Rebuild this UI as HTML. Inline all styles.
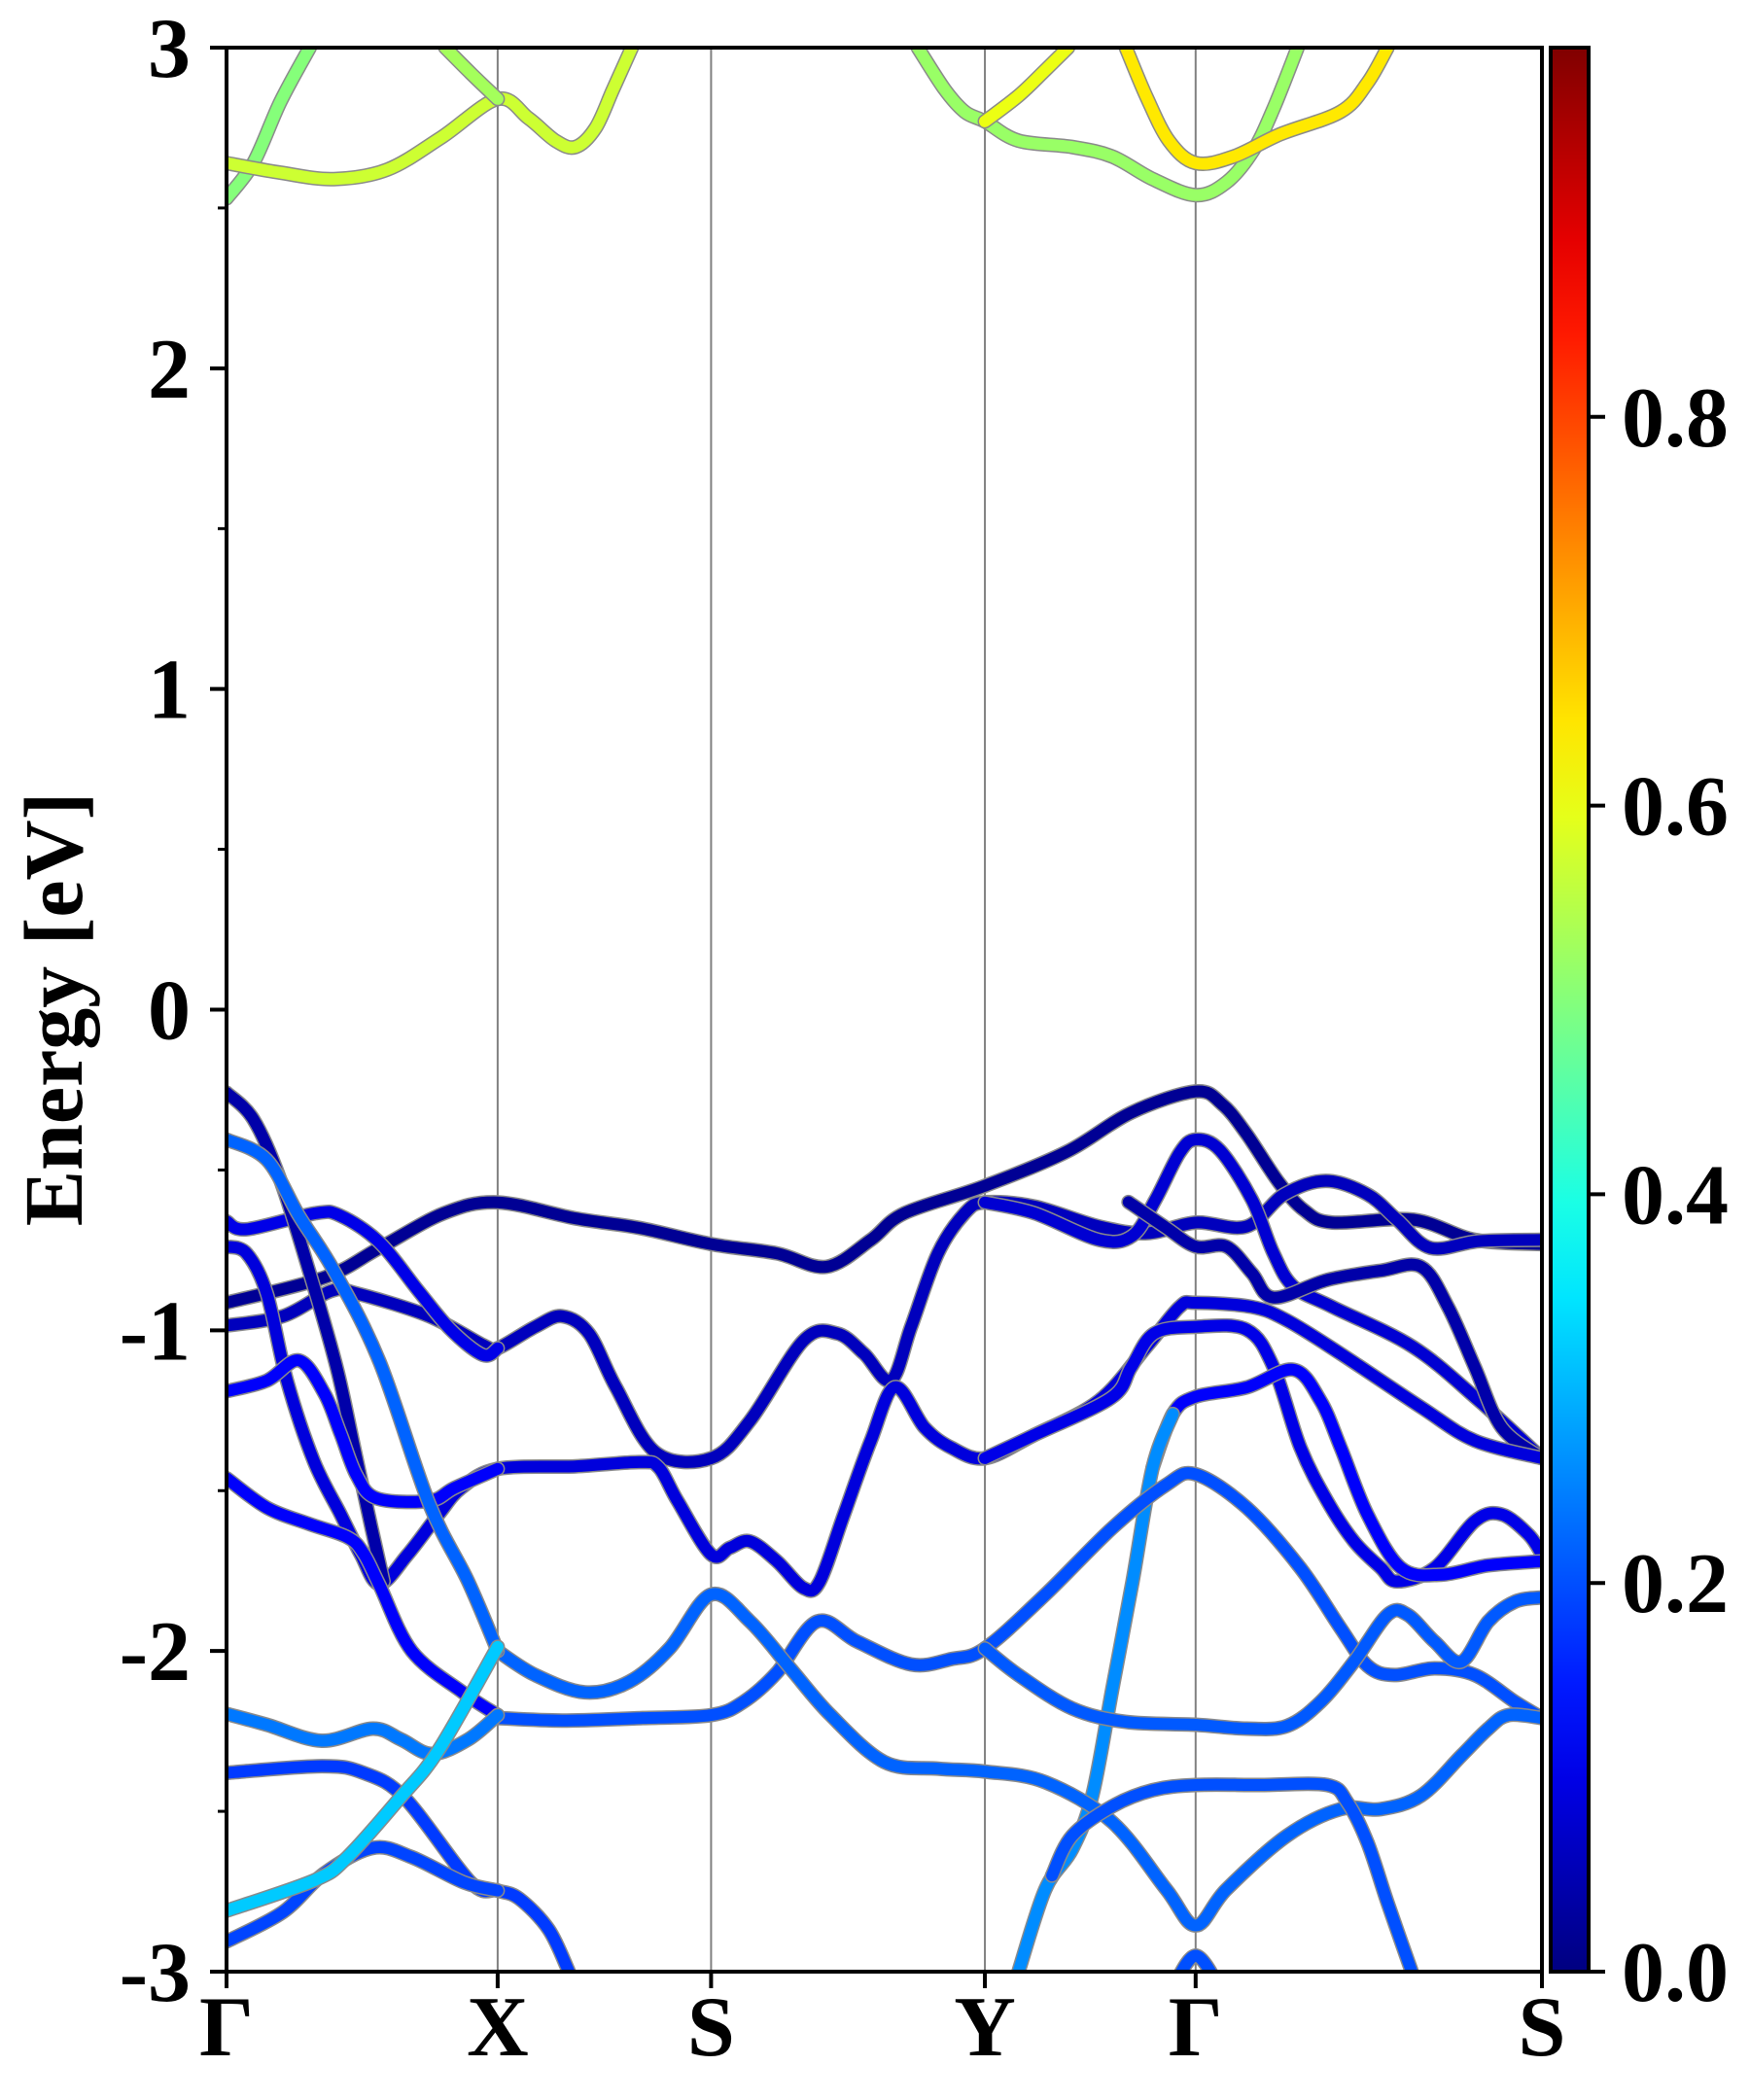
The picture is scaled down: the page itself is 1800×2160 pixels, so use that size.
<!DOCTYPE html>
<html><head><meta charset="utf-8"><style>
html,body{margin:0;padding:0;background:#fff;}
svg{display:block;}
text{font-family:"Liberation Serif",serif;font-weight:bold;fill:#000;}
</style></head><body>
<svg id="chart" width="1800" height="2160" viewBox="0 0 1800 2160" xmlns="http://www.w3.org/2000/svg">
<defs>
<clipPath id="plotclip"><rect x="233" y="49" width="1353" height="1979"/></clipPath>
<linearGradient id="jetgrad" x1="0" y1="1" x2="0" y2="0"></linearGradient>
</defs>
<rect width="1800" height="2160" fill="#fff"/>
<g id="kpathlines"></g>
<g id="bands" clip-path="url(#plotclip)"></g>
<g id="axes"></g>
<g id="cbar"></g>
<text x="0" y="0" font-size="86" text-anchor="middle" transform="translate(84,1038) rotate(-90)">Energy [eV]</text>
</svg>
<script>
const kLabels = ["Γ","X","S","Y","Γ","S"];
const kTicks = [0, 202, 361, 565, 722, 980];
const yTicks = [-3,-2,-1,0,1,2,3];
const yMinor = [-2.5,-1.5,-0.5,0.5,1.5,2.5];
const cbTicks = [0.0,0.2,0.4,0.6,0.8];
const eMin = -3, eMax = 3, kMax = 980, wMax = 0.99;

const bandC1 = [[0,2.53],[20,2.64],[40,2.83],[62,3.0]];
const bandC2 = [[0,2.64],[40,2.61],[80,2.59],[120,2.62],[160,2.72],[202,2.84],[225,2.78],[245,2.71],[260,2.69],[275,2.75],[288,2.87],[302,3.0]];
const bandC3 = [[202,2.84],[182,2.92],[163,3.0]];
const bandC4 = [[515,3.0],[535,2.87],[550,2.80],[565,2.77],[590,2.71],[630,2.69],[660,2.66],[690,2.59],[722,2.54],[745,2.58],[765,2.68],[780,2.81],[798,3.0]];
const bandC5 = [[565,2.77],[590,2.85],[610,2.93],[627,3.0]];
const bandC6 = [[670,3.0],[685,2.85],[702,2.71],[722,2.64],[750,2.66],[785,2.73],[830,2.80],[850,2.89],[865,3.0]];
const bandV1 = [[0,-0.914],[73,-0.835],[114,-0.743],[162,-0.635],[202,-0.601],[260,-0.651],[308,-0.681],[361,-0.731],[410,-0.760],[447,-0.802],[480,-0.718],[505,-0.635],[564,-0.551],[626,-0.443],[674,-0.321],[722,-0.255],[742,-0.296],[760,-0.388],[784,-0.539],[803,-0.626],[824,-0.664],[884,-0.655],[930,-0.718],[980,-0.731]];
const bandV2a = [[0,-0.259],[20,-0.342],[40,-0.530],[62,-0.822],[82,-1.115],[95,-1.365],[108,-1.616],[117,-1.783]];
const bandV10 = [[0,-1.461],[30,-1.553],[61,-1.603],[90,-1.645],[102,-1.695],[114,-1.795],[138,-2.0],[176,-2.129],[202,-2.200]];
const bandV2b = [[202,-2.209],[250,-2.217],[310,-2.209],[361,-2.200],[385,-2.159],[410,-2.067],[440,-1.908],[470,-1.971],[510,-2.042],[540,-2.025],[565,-1.992],[610,-1.824],[660,-1.616],[700,-1.482],[722,-1.449],[760,-1.553],[800,-1.741],[830,-1.929],[850,-2.046],[870,-2.075],[900,-2.054],[930,-2.075],[960,-2.159],[980,-2.209]];
const bandV3 = [[0,-0.405],[30,-0.468],[54,-0.643],[80,-0.814],[114,-1.098],[151,-1.541],[180,-1.783],[202,-2.0]];
const bandV3b = [[0,-2.810],[66,-2.714],[90,-2.643],[129,-2.459],[158,-2.309],[202,-1.987]];
const bandV3c = [[202,-2.0],[230,-2.075],[267,-2.129],[300,-2.096],[330,-1.992],[361,-1.824],[390,-1.908],[420,-2.054],[450,-2.200],[490,-2.346],[530,-2.367],[565,-2.376],[610,-2.409],[660,-2.534],[700,-2.743],[722,-2.856],[745,-2.743],[790,-2.576],[830,-2.493],[860,-2.493],[890,-2.451],[920,-2.326],[940,-2.242],[955,-2.200],[980,-2.209]];
const bandV4 = [[0,-0.660],[15,-0.685],[66,-0.635],[85,-0.643],[114,-0.726],[143,-0.877],[167,-0.998],[191,-1.077],[202,-1.056]];
const bandV5 = [[0,-0.985],[42,-0.956],[78,-0.877],[97,-0.885],[151,-0.956],[192,-1.048],[202,-1.056],[230,-0.989],[250,-0.956],[270,-1.010],[290,-1.177],[320,-1.382],[361,-1.399],[390,-1.282],[430,-1.031],[455,-1.010],[475,-1.073],[495,-1.156],[510,-0.989],[530,-0.760],[550,-0.635],[565,-0.601],[602,-0.614],[650,-0.676],[686,-0.697],[722,-0.664],[760,-0.676],[788,-0.576],[819,-0.534],[850,-0.576],[872,-0.655],[897,-0.743],[933,-0.722],[980,-0.718]];
const bandV6 = [[0,-0.739],[15,-0.760],[30,-0.885],[45,-1.156],[65,-1.407],[85,-1.574],[100,-1.699],[114,-1.791],[135,-1.699],[158,-1.574],[175,-1.491],[202,-1.432],[260,-1.424],[308,-1.411],[322,-1.428],[336,-1.532],[361,-1.699],[375,-1.678],[390,-1.658],[410,-1.720],[430,-1.804],[442,-1.783],[460,-1.574],[480,-1.344],[498,-1.177],[520,-1.303],[540,-1.366],[565,-1.399],[601,-1.328],[650,-1.219],[686,-1.048],[710,-0.927],[722,-0.914],[764,-0.927],[790,-0.969],[830,-1.073],[890,-1.240],[930,-1.344],[980,-1.399]];
const bandV7 = [[565,-1.399],[601,-1.328],[659,-1.211],[674,-1.115],[691,-1.010],[722,-0.989],[760,-0.998],[780,-1.115],[800,-1.365],[820,-1.532],[840,-1.658],[860,-1.741],[872,-1.783],[900,-1.741],[930,-1.595],[950,-1.574],[970,-1.637],[980,-1.699]];
const bandV8 = [[0,-1.190],[30,-1.157],[54,-1.094],[73,-1.198],[85,-1.323],[97,-1.453],[112,-1.524],[151,-1.532],[170,-1.491],[202,-1.432]];
const bandV9a = [[590,-3.0],[610,-2.743],[630,-2.618],[645,-2.451],[660,-2.117],[675,-1.783],[690,-1.428],[705,-1.261]];
const bandV9b = [[690,-1.428],[705,-1.261],[722,-1.207],[760,-1.178],[795,-1.123],[815,-1.219],[830,-1.365],[850,-1.574],[875,-1.741],[905,-1.762],[940,-1.733],[980,-1.720]];
const bandV11 = [[0,-2.196],[30,-2.230],[71,-2.280],[109,-2.242],[130,-2.276],[153,-2.321],[180,-2.276],[202,-2.200]];
const bandV12 = [[0,-2.380],[71,-2.359],[102,-2.380],[133,-2.459],[182,-2.722],[202,-2.747],[218,-2.772],[240,-2.868],[255,-3.0]];
const bandV13 = [[0,-2.906],[42,-2.814],[73,-2.693],[109,-2.614],[138,-2.643],[177,-2.722],[202,-2.747]];
const bandV16 = [[565,-1.992],[590,-2.075],[630,-2.179],[670,-2.221],[722,-2.230],[760,-2.242],[790,-2.234],[815,-2.159],[840,-2.033],[865,-1.887],[880,-1.887],[900,-1.971],[920,-2.033],[940,-1.908],[960,-1.846],[980,-1.833]];
const bandV18 = [[615,-2.70],[630,-2.576],[660,-2.484],[690,-2.434],[722,-2.418],[770,-2.418],[820,-2.418],[835,-2.472],[850,-2.597],[865,-2.785],[883,-3.0]];
const bandV19 = [[705,-3.05],[722,-2.95],[740,-3.05]];
const bandV21 = [[565,-0.601],[602,-0.635],[650,-0.718],[675,-0.705],[692,-0.593],[710,-0.447],[722,-0.405],[740,-0.438],[764,-0.593],[780,-0.760],[795,-0.864],[824,-0.927],[884,-1.052],[933,-1.219],[980,-1.399]];
const bandV22 = [[672,-0.60],[700,-0.68],[722,-0.739],[745,-0.739],[764,-0.822],[780,-0.898],[820,-0.843],[860,-0.814],[890,-0.802],[910,-0.927],[930,-1.115],[950,-1.303],[980,-1.399]];

const bandList = [
  ["band-v1",bandV1,0.02],["band-v5",bandV5,0.06],["band-v21",bandV21,0.08],["band-v22",bandV22,0.04],
  ["band-v4",bandV4,0.10],["band-v6",bandV6,0.09],["band-v7",bandV7,0.10],["band-v2a",bandV2a,0.04],
  ["band-v10",bandV10,0.12],["band-v8",bandV8,0.12],["band-v9b",bandV9b,0.12],["band-v9a",bandV9a,0.26],
  ["band-v2b",bandV2b,0.20],["band-v3c",bandV3c,0.22],["band-v16",bandV16,0.21],["band-v18",bandV18,0.20],
  ["band-v19",bandV19,0.20],["band-v11",bandV11,0.24],["band-v12",bandV12,0.18],["band-v13",bandV13,0.19],
  ["band-v3",bandV3,0.22],["band-v3b",bandV3b,0.32],
  ["band-c1",bandC1,0.50],["band-c2",bandC2,0.57],["band-c3",bandC3,0.53],["band-c4",bandC4,0.52],
  ["band-c5",bandC5,0.60],["band-c6",bandC6,0.64]
];

const X0=233, X1=1586, Y0=49, Y1=2028;
function xS(k){return X0 + k/kMax*(X1-X0);}
function yS(e){return Y0 + (eMax-e)/(eMax-eMin)*(Y1-Y0);}
function jet(v){
  v=Math.max(0,Math.min(1,v));
  function c(x){return Math.max(0,Math.min(1,x));}
  const r=c(1.5-Math.abs(4*v-3)), g=c(1.5-Math.abs(4*v-2)), b=c(1.5-Math.abs(4*v-1));
  return "rgb("+Math.round(r*255)+","+Math.round(g*255)+","+Math.round(b*255)+")";
}
const NS="http://www.w3.org/2000/svg";
function mk(tag,attrs,parent){const e=document.createElementNS(NS,tag);for(const a in attrs)e.setAttribute(a,attrs[a]);parent.appendChild(e);return e;}
function smoothPath(pts){
  const p=pts.map(q=>[xS(q[0]),yS(q[1])]);
  let d="M"+p[0][0].toFixed(1)+","+p[0][1].toFixed(1);
  for(let i=0;i<p.length-1;i++){
    const p0=p[i-1]||p[i],p1=p[i],p2=p[i+1],p3=p[i+2]||p[i+1];
    const c1=[p1[0]+(p2[0]-p0[0])/6,p1[1]+(p2[1]-p0[1])/6];
    const c2=[p2[0]-(p3[0]-p1[0])/6,p2[1]-(p3[1]-p1[1])/6];
    d+=" C"+c1[0].toFixed(1)+","+c1[1].toFixed(1)+" "+c2[0].toFixed(1)+","+c2[1].toFixed(1)+" "+p2[0].toFixed(1)+","+p2[1].toFixed(1);
  }
  return d;
}
const kl=document.getElementById("kpathlines");
kTicks.forEach((k,i)=>{
  if(i===0||i===kTicks.length-1)return;
  const l=mk("line",{x1:xS(k),x2:xS(k),y1:Y0,y2:Y1,stroke:"#808080","stroke-width":2},kl);
  
  
});
const bg=document.getElementById("bands");
bandList.forEach(b=>{
  const d=smoothPath(b[1]);
  const o=mk("path",{d:d,fill:"none",stroke:"#8a8a8a","stroke-width":15,"stroke-linecap":"round","stroke-linejoin":"round"},bg);
  
  
  const p=mk("path",{d:d,fill:"none",stroke:jet(b[2]/wMax),"stroke-width":12,"stroke-linecap":"round","stroke-linejoin":"round"},bg);
  
  
});
const ax=document.getElementById("axes");
const frame=mk("rect",{x:X0,y:Y0,width:X1-X0,height:Y1-Y0,fill:"none",stroke:"#000","stroke-width":4},ax);


yTicks.forEach(t=>{
  const y=yS(t);
  const tk=mk("line",{x1:X0-17,x2:X0,y1:y,y2:y,stroke:"#000","stroke-width":4},ax);
  
  
  const tx=mk("text",{x:196,y:y+30,"font-size":88,"text-anchor":"end"},ax);
  tx.textContent=String(t);
  
  
});
yMinor.forEach(t=>{
  const y=yS(t);
  const tk=mk("line",{x1:X0-9,x2:X0,y1:y,y2:y,stroke:"#000","stroke-width":3},ax);
  
  
});
kTicks.forEach((k,i)=>{
  const x=xS(k);
  const tk=mk("line",{x1:x,x2:x,y1:Y1,y2:Y1+17,stroke:"#000","stroke-width":4},ax);
  
  
  const tx=mk("text",{x:x,y:2114,"font-size":88,"text-anchor":"middle"},ax);
  tx.textContent=kLabels[i];
  
  
});
const cb=document.getElementById("cbar");
const grad=document.getElementById("jetgrad");
for(let i=0;i<=20;i++){mk("stop",{offset:(i/20),"stop-color":jet(i/20)},grad);}
const CX0=1595,CX1=1634;
const cr=mk("rect",{x:CX0,y:Y0,width:CX1-CX0,height:Y1-Y0,fill:"url(#jetgrad)",stroke:"#000","stroke-width":4},cb);


cbTicks.forEach(t=>{
  const y=Y1-t/wMax*(Y1-Y0);
  const tk=mk("line",{x1:CX1,x2:CX1+17,y1:y,y2:y,stroke:"#000","stroke-width":4},cb);
  
  
  const tx=mk("text",{x:1668,y:y+30,"font-size":88,"text-anchor":"start"},cb);
  tx.textContent=t.toFixed(1);
  
  
});
</script>
</body></html>
